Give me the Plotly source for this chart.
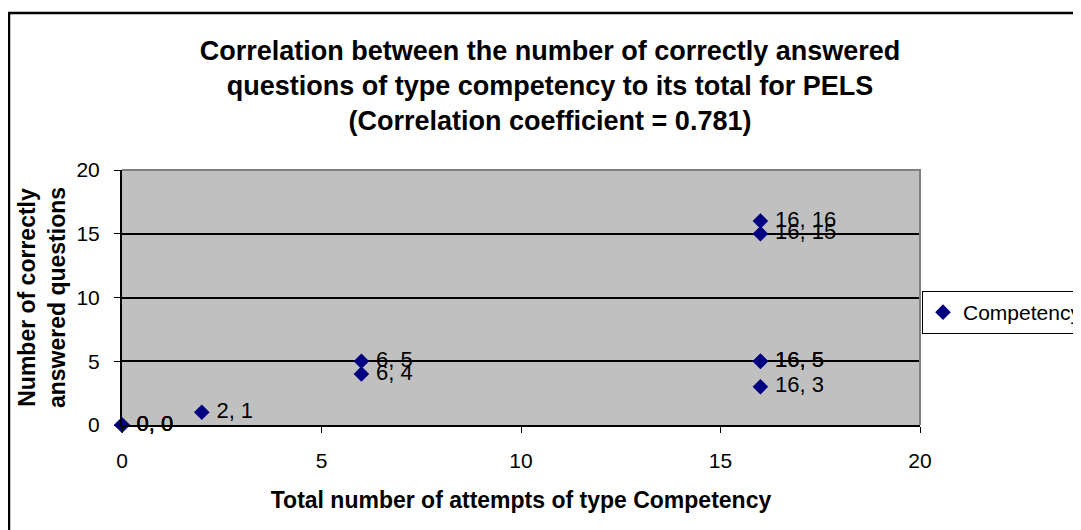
import plotly.graph_objects as go

# data (duplicates give the heavy overlapping labels)
total_attempts = [0, 0, 0, 2, 6, 6, 16, 16, 16, 16, 16]
correct_answers = [0, 0, 0, 1, 5, 4, 16, 15, 5, 5, 3]
axis_ticks = [0, 5, 10, 15, 20]

# the page body has an 8px margin, so the figure is a bit smaller than the window
PAGE_OFFSET = 8
W, H = 1081 - PAGE_OFFSET, 530 - PAGE_OFFSET
# plot area in reference pixels
L, R, T, B = 122, 920, 170, 425


def fx(p):
    # reference pixel -> figure pixel
    return p - PAGE_OFFSET


def px_x(p):
    return (fx(p) - fx(L)) / (R - L)


def px_y(p):
    return (B - p) / (B - T)


fig = go.Figure()
fig.add_trace(
    go.Scatter(
        x=total_attempts,
        y=correct_answers,
        mode="markers+text",
        texttemplate="\u00a0%{x}, %{y}",
        textposition="middle right",
        textfont={"family": "Arial, Liberation Sans", "size": 22, "color": "black"},
        marker={"symbol": "diamond", "size": 12, "color": "#000080"},
        name="Competency",
        cliponaxis=False,
    )
)

fig.update_layout(
    width=W,
    height=H,
    margin={
        "l": fx(L),
        "r": W - fx(R),
        "t": fx(T),
        "b": H - fx(B),
        "autoexpand": False,
    },
    paper_bgcolor="white",
    plot_bgcolor="#C0C0C0",
    font={"family": "Arial, Liberation Sans", "color": "black"},
    title={
        "text": "Correlation between the number of correctly answered<br>"
        "questions of type competency to its total for PELS<br>"
        "(Correlation coefficient = 0.781)",
        "font": {"size": 27, "family": "Arial, Liberation Sans", "weight": "bold"},
        "x": fx(550) / W,
        "xanchor": "center",
        "y": 1 - fx(60) / H,
        "yanchor": "top",
    },
    showlegend=True,
    legend={
        "x": px_x(922),
        "y": px_y(291),
        "xanchor": "left",
        "yanchor": "top",
        "bgcolor": "white",
        "bordercolor": "black",
        "borderwidth": 1,
        "font": {"size": 21},
        "itemsizing": "constant",
        "itemwidth": 30,
    },
    xaxis={
        "range": [0, 20],
        "tickvals": axis_ticks,
        "ticks": "outside",
        "ticklen": 6,
        "tickcolor": "black",
        "tickfont": {"size": 21},
        "ticklabelstandoff": 10,
        "showgrid": False,
        "zeroline": False,
        "showline": True,
        "linecolor": "black",
        "linewidth": 2,
        "automargin": False,
        "title": {
            "text": "<b>Total number of attempts of type Competency</b>",
            "font": {"size": 23},
            "standoff": 21,
        },
    },
    yaxis={
        "range": [0, 20],
        "tickvals": axis_ticks,
        "ticks": "outside",
        "ticklen": 6,
        "tickcolor": "black",
        "tickfont": {"size": 21},
        "ticklabelstandoff": 10,
        "showgrid": True,
        "gridcolor": "black",
        "gridwidth": 1.5,
        "zeroline": False,
        "showline": True,
        "linecolor": "black",
        "linewidth": 2,
        "automargin": False,
        "title": {
            "text": "<b>Number of correctly<br>answered questions</b>",
            "font": {"size": 23},
            "standoff": 4,
        },
    },
    shapes=[
        # grey frame on the top and right of the plot area
        {
            "type": "path",
            "xref": "paper",
            "yref": "paper",
            "path": "M 0 1 L 1 1 L 1 0",
            "line": {"color": "#808080", "width": 2},
        },
        # outer chart border
        {
            "type": "rect",
            "xref": "paper",
            "yref": "paper",
            "x0": px_x(9),
            "x1": px_x(1100),
            "y0": px_y(550),
            "y1": px_y(13),
            "line": {"color": "black", "width": 2.5},
            "layer": "below",
        },
    ],
)

fig.write_html("out.html")
